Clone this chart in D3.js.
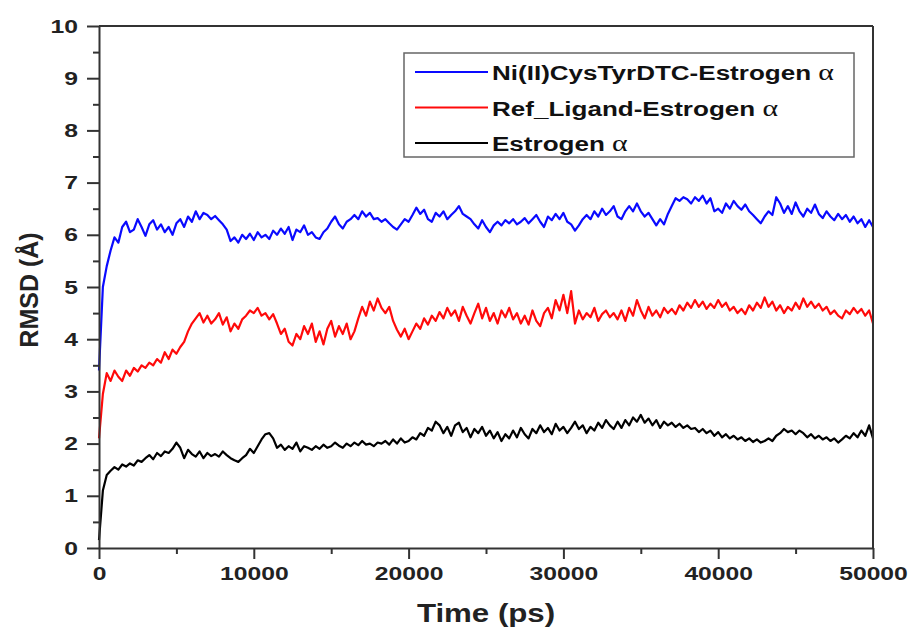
<!DOCTYPE html>
<html>
<head>
  <meta charset="UTF-8">
  <title>RMSD</title>
  <script src="https://d3js.org/d3.v7.min.js"></script>
  <style>
    body {
      margin: 0;
      background: #fff;
      font-family: Arial, "Liberation Sans", sans-serif;
    }
    .axis path, .axis line {
      stroke: #333;
      stroke-width: 2;
    }
    .axis text {
      font-family: Arial, "Liberation Sans", sans-serif;
      font-weight: bold;
      font-size: 19px;
      fill: #222;
    }
    .series {
      fill: none;
      stroke-width: 2.2;
      stroke-linejoin: round;
    }
  </style>
</head>
<body>
  <div id="chart"></div>
  <script>
    // time points (ps), one every 250 ps
    const times = d3.range(0, 50001, 250);

    const seriesNames = ["Ni(II)CysTyrDTC-Estrogen ", "Ref_Ligand-Estrogen ", "Estrogen "];
    const seriesColors = ["#0a0aff", "#ff0a0a", "#000000"];

    const niCysTyr = [
      3.4, 5.0, 5.4, 5.7, 5.95, 5.85, 6.15, 6.25, 6.05, 6.1,
      6.3, 6.15, 5.98, 6.2, 6.28, 6.1, 6.2, 6.05, 6.15, 6.0,
      6.22, 6.3, 6.15, 6.35, 6.25, 6.45, 6.3, 6.42, 6.38, 6.3,
      6.36, 6.28, 6.2, 6.1, 5.88, 5.95, 5.85, 6.0, 5.92, 6.02,
      5.9, 6.05, 5.95, 6.0, 5.92, 6.08, 6.0, 6.12, 6.02, 6.15,
      5.9, 6.1, 6.05, 6.18, 6.0, 6.05, 5.95, 5.92, 6.05, 6.12,
      6.25, 6.35, 6.2, 6.12, 6.25, 6.3, 6.38, 6.3, 6.45, 6.35,
      6.42, 6.3, 6.32, 6.25, 6.3, 6.22, 6.15, 6.1, 6.2, 6.3,
      6.25, 6.38, 6.52, 6.4, 6.48, 6.3, 6.25, 6.42, 6.35, 6.45,
      6.3, 6.38, 6.45, 6.55, 6.4, 6.35, 6.3, 6.2, 6.12, 6.28,
      6.15, 6.05, 6.18, 6.25, 6.18, 6.28, 6.22, 6.3, 6.2, 6.25,
      6.32, 6.22, 6.3, 6.38, 6.25, 6.15, 6.35, 6.28, 6.4, 6.3,
      6.42, 6.25, 6.2, 6.08, 6.18, 6.3, 6.38, 6.3, 6.45, 6.35,
      6.5, 6.38, 6.45, 6.55, 6.35, 6.3, 6.45, 6.55, 6.45, 6.6,
      6.45, 6.35, 6.42, 6.3, 6.18, 6.3, 6.2, 6.4, 6.55, 6.7,
      6.65, 6.72, 6.68, 6.6, 6.72, 6.65, 6.75, 6.6, 6.7, 6.45,
      6.5, 6.42, 6.6, 6.5, 6.65, 6.55, 6.48, 6.58, 6.45, 6.38,
      6.3, 6.22, 6.35, 6.45, 6.38, 6.72, 6.6, 6.42, 6.55, 6.4,
      6.62, 6.45, 6.35, 6.5, 6.42, 6.58, 6.4, 6.32, 6.45, 6.35,
      6.28, 6.4, 6.3, 6.38, 6.25, 6.35, 6.22, 6.3, 6.15, 6.28,
      6.15
    ];

    const refLigand = [
      2.1, 2.95, 3.35, 3.2, 3.4, 3.28, 3.2, 3.4, 3.3, 3.45,
      3.38, 3.5, 3.45, 3.55, 3.5, 3.62, 3.55, 3.75, 3.62, 3.8,
      3.72, 3.85, 3.95, 4.15, 4.3, 4.4, 4.5, 4.32, 4.45, 4.3,
      4.38, 4.5, 4.28, 4.42, 4.15, 4.3, 4.2, 4.38, 4.45, 4.55,
      4.5, 4.6, 4.45, 4.5, 4.38, 4.48, 4.3, 4.1, 4.2, 3.95,
      3.88, 4.1, 4.0, 4.25, 4.1, 4.3, 3.95, 4.15, 3.9, 4.2,
      4.35, 4.05, 4.25, 4.1, 4.3, 4.0, 4.15, 4.4, 4.62, 4.45,
      4.72, 4.55, 4.78, 4.6, 4.5, 4.62, 4.35, 4.18, 4.05, 4.2,
      4.0, 4.15, 4.3, 4.2, 4.4, 4.28, 4.45, 4.35, 4.52, 4.4,
      4.6, 4.45, 4.55, 4.35, 4.62, 4.45, 4.3, 4.5, 4.68, 4.4,
      4.6, 4.35, 4.5, 4.3, 4.55, 4.42, 4.6, 4.38, 4.5, 4.3,
      4.45, 4.28, 4.55, 4.35, 4.25, 4.5, 4.6, 4.4, 4.75, 4.55,
      4.85, 4.5, 4.92, 4.3, 4.55, 4.38, 4.5, 4.42, 4.6, 4.35,
      4.48, 4.55, 4.42, 4.5, 4.38, 4.55, 4.35, 4.6, 4.45, 4.75,
      4.55, 4.4, 4.62, 4.45, 4.55, 4.42, 4.6, 4.5, 4.58, 4.48,
      4.65, 4.55, 4.7, 4.6, 4.75, 4.62, 4.72, 4.58, 4.68, 4.6,
      4.75, 4.62, 4.7, 4.55, 4.62, 4.5, 4.58, 4.48, 4.65, 4.55,
      4.7, 4.6, 4.8, 4.62, 4.72, 4.55, 4.65, 4.5, 4.62, 4.55,
      4.7, 4.58, 4.78, 4.62, 4.72, 4.6, 4.68, 4.55, 4.62, 4.48,
      4.55, 4.45, 4.4, 4.55, 4.48, 4.6, 4.5, 4.58, 4.45, 4.55,
      4.3
    ];

    const estrogen = [
      0.15, 1.1, 1.4, 1.48, 1.55, 1.5, 1.6, 1.56, 1.62, 1.58,
      1.68, 1.65, 1.72, 1.78, 1.7, 1.82, 1.76, 1.85, 1.82, 1.9,
      2.02, 1.92, 1.72, 1.88, 1.8, 1.75, 1.85, 1.72, 1.82, 1.76,
      1.8, 1.75, 1.85, 1.78, 1.72, 1.68, 1.65, 1.72, 1.78, 1.9,
      1.82, 1.95, 2.08, 2.18, 2.2, 2.1, 1.92, 1.98, 1.88, 1.95,
      1.9, 2.02, 1.85, 1.95, 1.92, 1.88, 1.95, 1.9, 1.98, 1.92,
      1.95, 2.02, 1.96, 1.92, 2.0, 1.95, 2.02, 1.97, 2.05, 1.98,
      2.0, 1.95, 2.02, 2.0, 2.05, 1.98, 2.08, 2.0, 2.1, 2.02,
      2.05, 2.12, 2.08, 2.2, 2.15, 2.3, 2.25, 2.42, 2.35, 2.2,
      2.32, 2.15, 2.35, 2.4, 2.22, 2.3, 2.12, 2.28, 2.2, 2.32,
      2.15, 2.25, 2.1, 2.22, 2.05, 2.18, 2.1, 2.25, 2.12, 2.3,
      2.18, 2.1, 2.28, 2.2, 2.35, 2.22, 2.3, 2.18, 2.38, 2.25,
      2.32, 2.2, 2.3, 2.42, 2.28, 2.35, 2.2, 2.32, 2.25, 2.4,
      2.3, 2.45, 2.35, 2.28, 2.42, 2.3, 2.45, 2.35, 2.5, 2.42,
      2.55, 2.4, 2.48, 2.35, 2.45, 2.3, 2.42, 2.35, 2.4, 2.32,
      2.38, 2.3, 2.35, 2.28, 2.3, 2.22, 2.28, 2.2, 2.25, 2.15,
      2.22, 2.12, 2.18, 2.1, 2.15, 2.08, 2.12, 2.05, 2.1, 2.03,
      2.08, 2.02, 2.05, 2.1, 2.05, 2.15, 2.2, 2.28, 2.22, 2.25,
      2.18, 2.25, 2.2, 2.12, 2.18, 2.1, 2.15, 2.08, 2.12, 2.05,
      2.1, 2.02, 2.08, 2.15, 2.1, 2.2, 2.12, 2.25, 2.15, 2.35,
      2.1
    ];

    const seriesValues = [niCysTyr, refLigand, estrogen];

    const yMajor = d3.range(0, 11, 1);
    const yMinor = d3.range(0.5, 10, 1);
    const xMajor = [0, 10000, 20000, 30000, 40000, 50000];
    const xMinor = [5000, 15000, 25000, 35000, 45000];

    const W = 910, H = 628;
    const margin = { top: 26, right: 37, bottom: 80, left: 99 };
    const width = W - margin.left - margin.right;
    const height = H - margin.top - margin.bottom;
    const stretch = 1.3; // text in the source is drawn wider than it is tall

    const x = d3.scaleLinear().domain([0, 50000]).range([0, width]);
    const y = d3.scaleLinear().domain([0, 10]).range([height, 0]);

    const svg = d3.select("#chart")
      .append("svg")
      .attr("width", W)
      .attr("height", H);

    const g = svg.append("g")
      .attr("transform", `translate(${margin.left}, ${margin.top})`);

    const line = d3.line()
      .x((d, i) => x(times[i]))
      .y(d => y(d));

    seriesValues.forEach((vals, k) => {
      g.append("path")
        .datum(vals)
        .attr("class", "series")
        .attr("stroke", seriesColors[k])
        .attr("d", line);
    });

    // frame: top and right
    g.append("line")
      .attr("x1", 0).attr("x2", width)
      .attr("y1", 0).attr("y2", 0)
      .attr("stroke", "#333").attr("stroke-width", 2);
    g.append("line")
      .attr("x1", width).attr("x2", width)
      .attr("y1", 0).attr("y2", height)
      .attr("stroke", "#333").attr("stroke-width", 2);

    // y axis
    g.append("g")
      .attr("class", "axis")
      .call(d3.axisLeft(y).tickValues(yMinor).tickSize(6).tickFormat(""))
      .select(".domain").remove();
    g.append("g")
      .attr("class", "axis")
      .call(d3.axisLeft(y).tickValues(yMajor).tickSize(12).tickSizeOuter(0).tickPadding(7).tickFormat(d3.format("d")))
      .selectAll(".tick text")
      .attr("x", 0)
      .attr("transform", `translate(-21, 0) scale(${stretch}, 1)`);

    // x axis
    g.append("g")
      .attr("class", "axis")
      .attr("transform", `translate(0, ${height})`)
      .call(d3.axisBottom(x).tickValues(xMinor).tickSize(6).tickFormat(""))
      .select(".domain").remove();
    g.append("g")
      .attr("class", "axis")
      .attr("transform", `translate(0, ${height})`)
      .call(d3.axisBottom(x).tickValues(xMajor).tickSize(11).tickSizeOuter(0).tickPadding(8).tickFormat(d3.format("d")))
      .selectAll(".tick text")
      .attr("transform", `scale(${stretch}, 1)`);

    // axis titles
    svg.append("text")
      .attr("transform", `translate(${margin.left + x(25000)}, 622) scale(1.25, 1)`)
      .attr("text-anchor", "middle")
      .attr("font-weight", "bold")
      .attr("font-size", "25px")
      .attr("fill", "#222")
      .text("Time (ps)");

    svg.append("text")
      .attr("transform", "translate(38, 290) rotate(-90)")
      .attr("text-anchor", "middle")
      .attr("font-weight", "bold")
      .attr("font-size", "25px")
      .attr("fill", "#222")
      .text("RMSD (Å)");

    // legend
    const legend = svg.append("g")
      .attr("transform", "translate(404, 53)");

    legend.append("rect")
      .attr("width", 450)
      .attr("height", 104)
      .attr("fill", "#fff")
      .attr("stroke", "#666")
      .attr("stroke-width", 1.5);

    seriesNames.forEach((name, k) => {
      const row = legend.append("g")
        .attr("transform", `translate(0, ${19 + k * 35.5})`);
      row.append("line")
        .attr("x1", 11).attr("x2", 84)
        .attr("y1", 0).attr("y2", 0)
        .attr("stroke", seriesColors[k])
        .attr("stroke-width", 2);
      const t = row.append("text")
        .attr("transform", "translate(88, 8) scale(1.24, 1)")
        .attr("font-weight", "bold")
        .attr("font-size", "21px")
        .attr("fill", "#111");
      t.append("tspan").text(name);
      t.append("tspan")
        .attr("font-family", "'Liberation Serif', 'DejaVu Serif', serif")
        .attr("font-weight", "normal")
        .attr("font-size", "24px")
        .text("α");
    });
  </script>
</body>
</html>
